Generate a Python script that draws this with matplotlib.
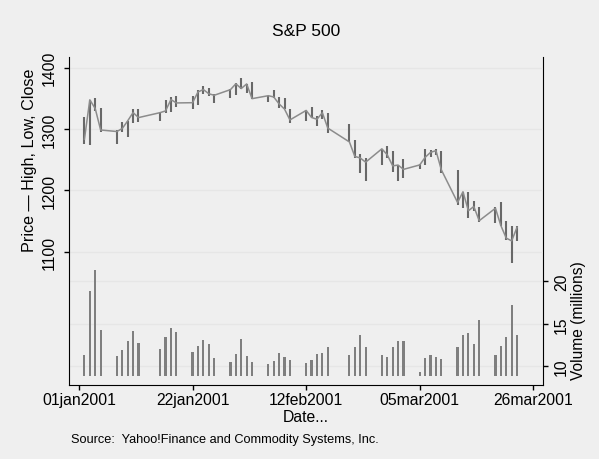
import matplotlib
matplotlib.use("Agg")
import matplotlib.pyplot as plt
import matplotlib.dates as mdates
import numpy as np
from datetime import datetime

plt.rcParams['font.family'] = ['Liberation Sans', 'DejaVu Sans']

# S&P 500, first trading days of 2001
dates = ["2001-01-02", "2001-01-03", "2001-01-04", "2001-01-05", "2001-01-08",
         "2001-01-09", "2001-01-10", "2001-01-11", "2001-01-12", "2001-01-16",
         "2001-01-17", "2001-01-18", "2001-01-19", "2001-01-22", "2001-01-23",
         "2001-01-24", "2001-01-25", "2001-01-26", "2001-01-29", "2001-01-30",
         "2001-01-31", "2001-02-01", "2001-02-02", "2001-02-05", "2001-02-06",
         "2001-02-07", "2001-02-08", "2001-02-09", "2001-02-12", "2001-02-13",
         "2001-02-14", "2001-02-15", "2001-02-16", "2001-02-20", "2001-02-21",
         "2001-02-22", "2001-02-23", "2001-02-26", "2001-02-27", "2001-02-28",
         "2001-03-01", "2001-03-02", "2001-03-05", "2001-03-06", "2001-03-07",
         "2001-03-08", "2001-03-09", "2001-03-12", "2001-03-13", "2001-03-14",
         "2001-03-15", "2001-03-16", "2001-03-19", "2001-03-20", "2001-03-21",
         "2001-03-22", "2001-03-23"]
high = [1320.3, 1347.8, 1350.2, 1334.8, 1298.4, 1311.7, 1313.8, 1332.2, 1333.2, 1327.8,
        1346.9, 1352.7, 1354.6, 1353.2, 1362.9, 1369.8, 1367.4, 1357.5, 1365.5, 1375.7,
        1383.4, 1373.5, 1376.4, 1354.6, 1363.6, 1352.3, 1350.3, 1332.5, 1331.0, 1336.6,
        1320.7, 1331.3, 1326.6, 1307.5, 1282.5, 1259.9, 1252.8, 1267.7, 1272.8, 1263.5,
        1241.4, 1251.0, 1242.6, 1267.4, 1266.5, 1266.9, 1264.7, 1233.4, 1197.8, 1197.7,
        1182.0, 1173.6, 1173.5, 1180.6, 1149.4, 1141.8, 1141.8]
low = [1276.1, 1274.6, 1329.1, 1295.0, 1276.3, 1295.1, 1287.3, 1309.7, 1311.6, 1313.3,
       1325.4, 1327.4, 1336.7, 1333.0, 1339.6, 1357.3, 1354.6, 1342.8, 1350.4, 1356.2,
       1364.7, 1359.3, 1348.7, 1344.5, 1350.0, 1334.3, 1332.4, 1310.0, 1313.6, 1317.5,
       1304.7, 1315.9, 1293.2, 1278.4, 1253.0, 1228.3, 1215.4, 1241.7, 1252.3, 1229.7,
       1214.5, 1219.7, 1234.0, 1241.4, 1253.8, 1257.4, 1228.4, 1176.8, 1171.5, 1155.4,
       1166.7, 1148.6, 1147.2, 1142.2, 1118.7, 1081.2, 1117.6]
close = [1283.3, 1347.6, 1333.3, 1298.4, 1295.9, 1300.8, 1313.3, 1326.8, 1318.6, 1326.7,
         1329.5, 1348.0, 1342.5, 1342.9, 1360.4, 1364.3, 1357.5, 1355.0, 1364.2, 1373.7,
         1366.0, 1373.5, 1349.5, 1354.3, 1352.3, 1340.9, 1332.5, 1314.8, 1330.3, 1318.8,
         1315.9, 1326.6, 1301.5, 1278.9, 1255.3, 1252.8, 1245.9, 1267.7, 1257.9, 1239.9,
         1241.2, 1234.2, 1241.4, 1253.8, 1261.9, 1264.7, 1233.4, 1180.2, 1197.7, 1166.7,
         1173.6, 1150.5, 1170.8, 1142.6, 1122.1, 1117.6, 1139.8]
volume = [11.29, 18.81, 21.31, 14.31, 11.16, 11.91, 12.97, 14.11, 12.76, 12.06,
          13.49, 14.45, 14.08, 11.64, 12.33, 13.09, 12.58, 10.98, 10.53, 11.49,
          13.16, 11.18, 10.49, 10.26, 10.59, 11.59, 11.07, 10.76, 10.40, 10.75,
          11.50, 11.53, 12.31, 11.37, 12.27, 13.65, 12.31, 11.31, 11.15, 12.26,
          12.95, 12.95, 9.30, 10.92, 11.32, 11.15, 10.89, 12.29, 13.62, 13.88,
          12.66, 15.42, 11.27, 12.37, 13.45, 17.23, 13.62]

ticks = ["2001-01-01", "2001-01-22", "2001-02-12", "2001-03-05", "2001-03-26"]

d = mdates.date2num([datetime.strptime(s, "%Y-%m-%d") for s in dates])
tk = mdates.date2num([datetime.strptime(s, "%Y-%m-%d") for s in ticks])

bg = "#efefef"
fig = plt.figure(figsize=(5.99, 4.60), dpi=100, facecolor=bg)
W, H = 599, 460
ax = fig.add_axes([69 / W, 1 - 386 / H, (543.3 - 69) / W, (386 - 57.7) / H])
ax2 = ax.twinx()
ax.set_zorder(ax2.get_zorder() + 1)
ax.patch.set_visible(False)
ax2.set_facecolor("white")

# price
ax.vlines(d, low, high, color="#686868", lw=1.5)
ax.plot(d, close, color="#8c8c8c", lw=1.1)
ax.set_ylim(882.6, 1417.9)
ax.set_yticks([1100, 1200, 1300, 1400])
ax.grid(axis="y", color="#e6e6e6", lw=1)
ax.set_axisbelow(True)

# volume
ax2.bar(d, np.array(volume) - 8.9, bottom=8.9, width=0.4, color="#7f7f7f", lw=0)
ax2.set_ylim(7.8, 46.4)
ax2.set_yticks([10, 15, 20])
ax2.grid(axis="y", color="#e6e6e6", lw=1)
ax2.set_axisbelow(True)

ax.set_xlim(tk[0] - 1.85, tk[-1] + 1.85)
ax.set_xticks(tk)
ax.set_xticklabels([datetime.strptime(s, "%Y-%m-%d").strftime("%d%b%Y").lower() for s in ticks])

for a in (ax, ax2):
    a.spines["top"].set_visible(False)
    a.tick_params(labelsize=11.3, length=3.6, width=1, color="black")
ax.tick_params(axis="x", pad=1.5)
ax.tick_params(axis="y", pad=5)
ax2.tick_params(axis="y", pad=4)
ax2.spines["left"].set_visible(False)
ax.spines["right"].set_visible(False)
ax2.spines["bottom"].set_visible(False)
for lab in ax.get_yticklabels() + ax2.get_yticklabels():
    lab.set_rotation(90)
    lab.set_va("center")

fig.text(30 / W, 1 - 160 / H, "Price \u2014 High, Low, Close", rotation=90,
         ha="center", va="center", fontsize=11.6)
fig.text(578.5 / W, 1 - 321 / H, "Volume (millions)", rotation=90,
         ha="center", va="center", fontsize=11.2)
fig.text(306 / W, 1 - 418 / H, "Date...", ha="center", va="center", fontsize=11.3)
fig.text(306 / W, 1 - 32 / H, "S&P 500", ha="center", va="center", fontsize=12.5)
fig.text(71 / W, 1 - 440 / H, "Source:  Yahoo!Finance and Commodity Systems, Inc.",
         ha="left", va="center", fontsize=9.2)

fig.savefig("out.png", dpi=100, facecolor=bg)
